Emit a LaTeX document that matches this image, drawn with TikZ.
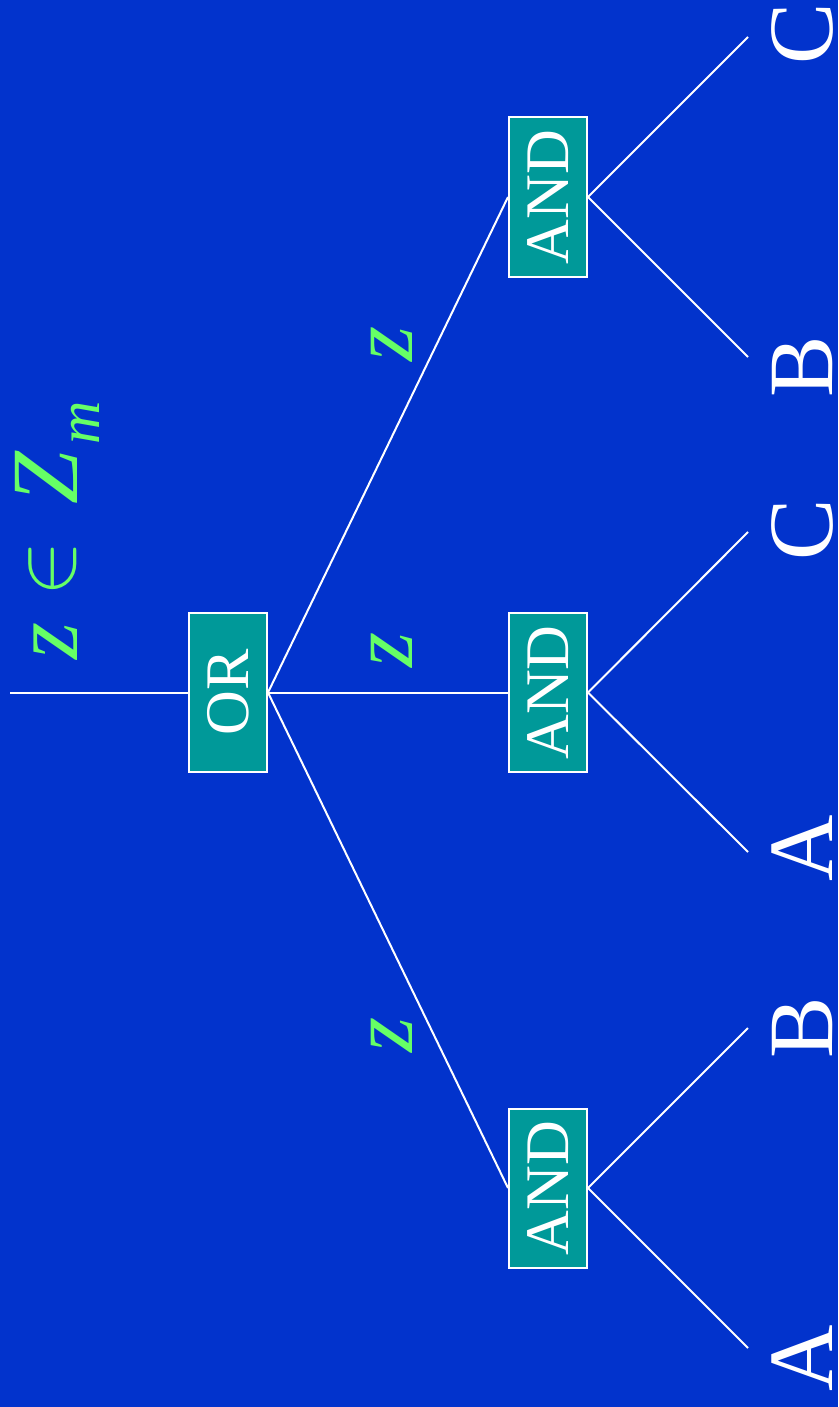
\documentclass[tikz,border=0pt]{standalone}
\usepackage{fontspec}
\usepackage{graphicx}
\setmainfont{Liberation Serif}
\definecolor{bg}{RGB}{2,51,204}
\definecolor{gatefill}{RGB}{0,153,153}
\definecolor{zgreen}{RGB}{102,255,102}
\begin{document}
\begin{tikzpicture}[x=1pt,y=-1pt,
  gate/.style={rotate=90, draw=white, line width=2pt, fill=gatefill, text=white,
    minimum width=159pt, minimum height=78pt, inner sep=0pt,
    font=\fontsize{62}{62}\selectfont},
  wire/.style={white, line width=2pt},
  leaf/.style={rotate=90, anchor=base, text=white, inner sep=0pt,
    font=\fontsize{92}{92}\selectfont},
  zlab/.style={rotate=90, anchor=base, text=zgreen, inner sep=0pt,
    font=\fontsize{90}{90}\selectfont\itshape}]
\clip (0,0) rectangle (838,1407);
\fill[bg] (0,0) rectangle (838,1407);
% gates
\node[gate] (or) at (228,692.5) {OR};
\node[gate] (and1) at (548,197) {AND};
\node[gate] (and2) at (548,692.5) {AND};
\node[gate] (and3) at (548,1188) {AND};
% leaf ends
\coordinate (root) at (10,692.5);
\coordinate (e1) at (748,37);
\coordinate (e2) at (748,357);
\coordinate (e3) at (748,532);
\coordinate (e4) at (748,852);
\coordinate (e5) at (748,1028);
\coordinate (e6) at (748,1348);
% wires
\draw[wire] (root) -- (or.north);
\draw[wire] (or.south) -- (and1.north);
\draw[wire] (or.south) -- (and2.north);
\draw[wire] (or.south) -- (and3.north);
\draw[wire] (and1.south) -- (e1);
\draw[wire] (and1.south) -- (e2);
\draw[wire] (and2.south) -- (e3);
\draw[wire] (and2.south) -- (e4);
\draw[wire] (and3.south) -- (e5);
\draw[wire] (and3.south) -- (e6);
% leaf letters
\node[leaf] (l1) at (832,34) {C};
\node[leaf] (l2) at (832,367) {B};
\node[leaf] (l3) at (832,530) {C};
\node[leaf] (l4) at (832,848) {A};
\node[leaf] (l5) at (832,1028) {B};
\node[leaf] (l6) at (832,1358) {A};
% edge labels
\node[zlab] (z1) at (412,344) {z};
\node[zlab] (z2) at (412,650) {z};
\node[zlab] (z3) at (412,1035) {z};
% domain label
\node[zlab, anchor=base west, font=\fontsize{95}{95}\selectfont\itshape] (dom) at (77,660)
  {z\hspace{26pt}\raisebox{3pt}{\scalebox{8.3}{\fontsize{10}{12}\selectfont$\in$}}\hspace{37pt}Z\hspace{7pt}\raisebox{-22.5pt}{\fontsize{60}{60}\selectfont m}};
\end{tikzpicture}
\end{document}
